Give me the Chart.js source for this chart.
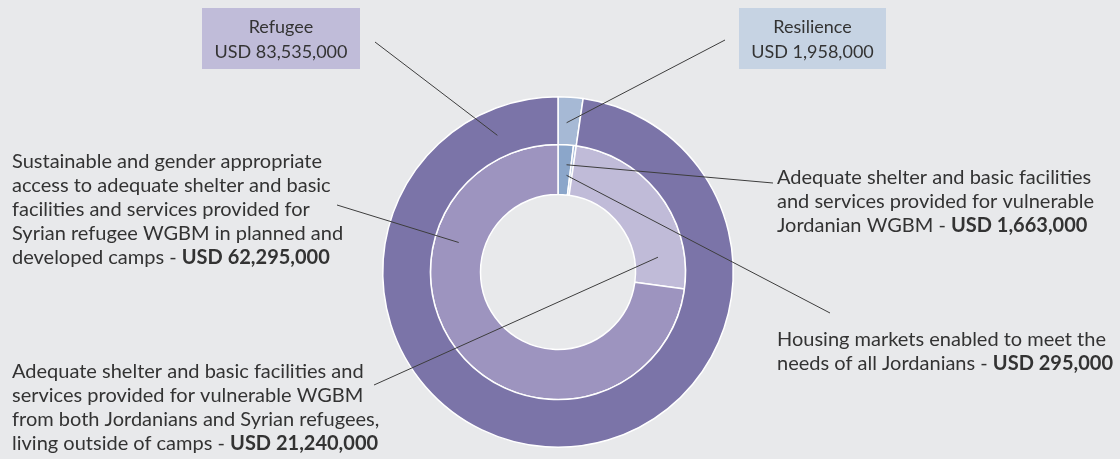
<!DOCTYPE html>
<html>
<head>
  <title>Shelter funding</title>
  <script src="https://cdn.jsdelivr.net/npm/chart.js@4/dist/chart.umd.min.js"></script>
  <style>
    body { margin: 0; background: #e8e9eb; }
    #chart { display: block; }
  </style>
</head>
<body>
<canvas id="chart" width="1120" height="459"></canvas>

<script>
// outer ring: the two components
var groups = ["Resilience", "Refugee"]
var groupValues = [1958000, 83535000]
var groupColors = ["#a6b9d5", "#7b74a8"]

// inner ring: the four outputs
var outputs = [
  "Adequate shelter and basic facilities and services provided for vulnerable Jordanian WGBM",
  "Housing markets enabled to meet the needs of all Jordanians",
  "Adequate shelter and basic facilities and services provided for vulnerable WGBM from both Jordanians and Syrian refugees, living outside of camps",
  "Sustainable and gender appropriate access to adequate shelter and basic facilities and services provided for Syrian refugee WGBM in planned and developed camps"
]
var outputValues = [1663000, 295000, 21240000, 62295000]
var outputColors = ["#8ba6ca", "#a9bcd9", "#c0bbd8", "#9d94bf"]

var TEXT = "#333333"
var FONT = "Lato"

function usd(v){ return "USD " + v.toLocaleString("en-US") }

// callouts: which arc they point at + where the text goes
// ds = dataset (0 outer, 1 inner), i = slice, t = position along the arc, r = position across the ring
var callouts = [
  {ds:1, i:3, t:0.72, r:0.52, to:[337,205], x:12, y:162,
   lines:["Sustainable and gender appropriate","access to adequate shelter and basic","facilities and services provided for","Syrian refugee WGBM in planned and","developed camps - "]},
  {ds:1, i:2, t:0.82, r:0.47, to:[374,385], x:12, y:372,
   lines:["Adequate shelter and basic facilities and","services provided for vulnerable WGBM","from both Jordanians and Syrian refugees,","living outside of camps - "]},
  {ds:1, i:0, t:0.65, r:0.6, to:[773,183], x:777, y:178,
   lines:["Adequate shelter and basic facilities","and services provided for vulnerable","Jordanian WGBM - "]},
  {ds:1, i:0, t:0.72, r:0.39, to:[830,313], x:777, y:340,
   lines:["Housing markets enabled to meet the","needs of all Jordanians - "]}
]
var calloutValues = [outputValues[3], outputValues[2], outputValues[0], outputValues[1]]

var boxes = [
  {ds:0, i:1, t:0.932, r:0.46, to:[375,42], box:[202,8,158,61], fill:"#c0bcd9", title:groups[1], value:groupValues[1]},
  {ds:0, i:0, t:0.4, r:0.46, to:[725,40], box:[739,8,147,61], fill:"#c6d3e3", title:groups[0], value:groupValues[0]}
]

function arcPoint(chart, ds, i, t, r){
  var arc = chart.getDatasetMeta(ds).data[i]
  var p = arc.getProps(["x","y","startAngle","endAngle","innerRadius","outerRadius"], true)
  var a = p.startAngle + (p.endAngle - p.startAngle)*t
  var rad = p.innerRadius + (p.outerRadius - p.innerRadius)*r
  return [p.x + rad*Math.cos(a), p.y + rad*Math.sin(a)]
}

var calloutPlugin = {
  id: "callouts",
  afterDraw: function(chart){
    var ctx = chart.ctx
    ctx.save()
    // leader lines
    ctx.strokeStyle = "#3d3d3d"
    ctx.lineWidth = 1
    boxes.concat(callouts).forEach(function(c){
      var p = arcPoint(chart, c.ds, c.i, c.t, c.r)
      ctx.beginPath()
      ctx.moveTo(p[0], p[1])
      ctx.lineTo(c.to[0], c.to[1])
      ctx.stroke()
    })
    // boxes
    boxes.forEach(function(b){
      ctx.fillStyle = b.fill
      ctx.fillRect(b.box[0], b.box[1], b.box[2], b.box[3])
      ctx.fillStyle = TEXT
      ctx.font = "18px " + FONT
      ctx.textAlign = "center"
      ctx.textBaseline = "middle"
      var cx = b.box[0] + b.box[2]/2
      ctx.fillText(b.title, cx, 27)
      ctx.fillText(usd(b.value), cx, 52)
    })
    // text blocks
    ctx.textAlign = "left"
    ctx.textBaseline = "middle"
    callouts.forEach(function(c, k){
      for(var n=0;n<c.lines.length;n++){
        var y = c.y + n*24
        ctx.font = "20px " + FONT
        ctx.fillStyle = TEXT
        ctx.fillText(c.lines[n], c.x, y)
        if(n == c.lines.length-1){
          var w = ctx.measureText(c.lines[n]).width
          ctx.font = "bold 20px " + FONT
          ctx.fillText(usd(calloutValues[k]), c.x + w, y)
        }
      }
    })
    ctx.restore()
  }
}

new Chart(document.getElementById("chart").getContext("2d"), {
  type: "doughnut",
  data: {
    labels: outputs,
    datasets: [
      {label: "Component", data: groupValues, backgroundColor: groupColors,
       borderColor: "#ffffff", borderWidth: 1.5, weight: 48},
      {label: "Output", data: outputValues, backgroundColor: outputColors,
       borderColor: "#ffffff", borderWidth: 1.5, weight: 50.5}
    ]
  },
  options: {
    responsive: false,
    animation: false,
    cutout: 77.5,
    layout: {padding: {left: 382, right: 386, top: 96, bottom: 11}},
    plugins: {legend: {display: false}, tooltip: {enabled: false}}
  },
  plugins: [calloutPlugin]
})
</script>
</body>
</html>
